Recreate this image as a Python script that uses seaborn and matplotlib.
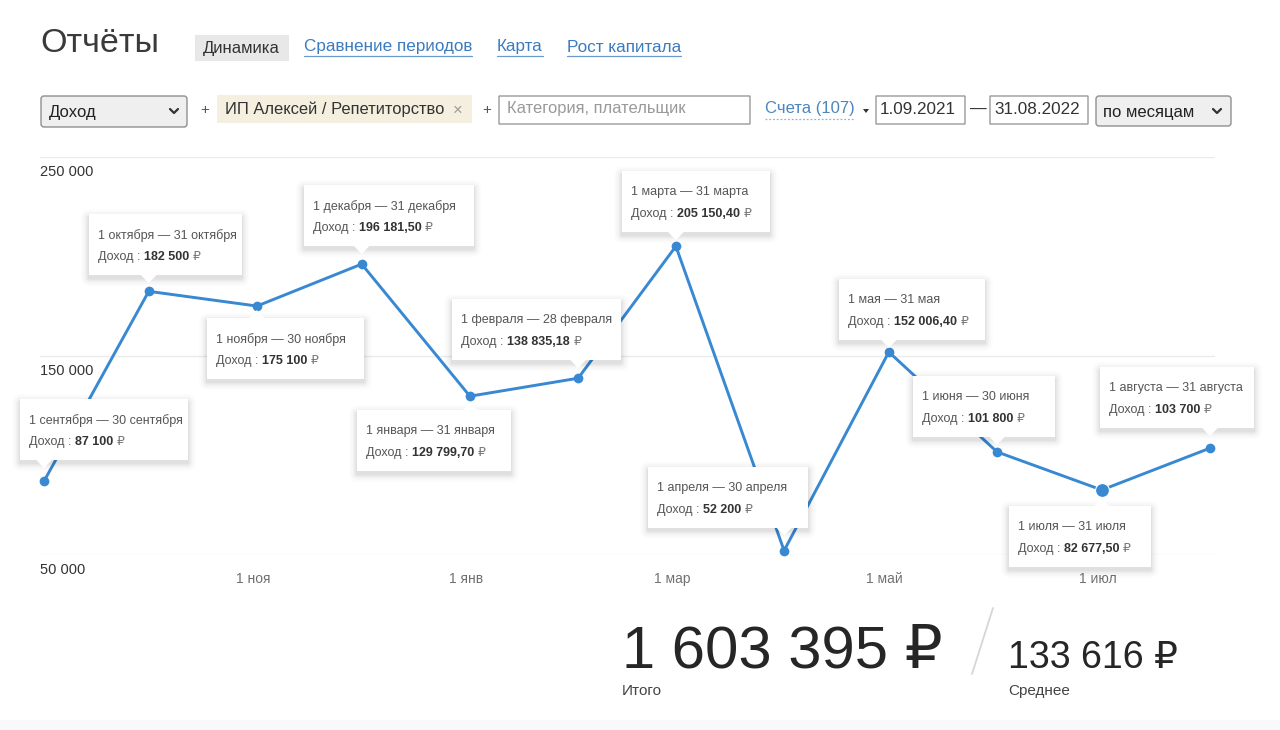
import numpy as np
import pandas as pd
import matplotlib
matplotlib.use("Agg")
import matplotlib.pyplot as plt
import matplotlib.dates as mdates
import matplotlib.transforms as mtransforms
import seaborn as sns
from matplotlib.patches import FancyBboxPatch, Rectangle, Polygon

# ---------------- data ----------------
months = pd.date_range("2021-09-01", "2022-08-01", freq="MS")
income = [87100, 182500, 175100, 196181.50, 129799.70, 138835.18,
          205150.40, 52200, 152006.40, 101800, 82677.50, 103700]
period_labels = ["1 сентября — 30 сентября", "1 октября — 31 октября",
                 "1 ноября — 30 ноября", "1 декабря — 31 декабря",
                 "1 января — 31 января", "1 февраля — 28 февраля",
                 "1 марта — 31 марта", "1 апреля — 30 апреля",
                 "1 мая — 31 мая", "1 июня — 30 июня",
                 "1 июля — 31 июля", "1 августа — 31 августа"]
value_labels = ["87 100", "182 500", "175 100", "196 181,50",
                "129 799,70", "138 835,18", "205 150,40", "52 200",
                "152 006,40", "101 800", "82 677,50", "103 700"]
currency = "₽"
xtick_dates = ["2021-11-01", "2022-01-01", "2022-03-01", "2022-05-01", "2022-07-01"]
xtick_labels = ["1 ноя", "1 янв", "1 мар", "1 май", "1 июл"]
ytick_values = [50000, 150000, 250000]
ytick_labels = ["50 000", "150 000", "250 000"]
series_name = "Доход"
total_label = "1 603 395 ₽"
mean_label = "133 616 ₽"
highlight_index = 10

# ---------------- style ----------------
sns.set_style("white")
FONT = ["Liberation Sans", "DejaVu Sans"]
plt.rcParams["font.family"] = FONT
BLUE = "#3888d2"
LINK = "#3b7bbf"
W, H = 1280, 730

fig = plt.figure(figsize=(W / 100, H / 100), dpi=100)
fig.patch.set_facecolor("white")

# main chart axes (pixel box 40..1215 x 157..555)
ax = fig.add_axes([40 / W, (H - 555) / H, 1175 / W, 398 / H])
df = pd.DataFrame({"month": months, "income": income})
sns.lineplot(data=df, x="month", y="income", ax=ax, color=BLUE, lw=2.1,
             marker="o", markersize=7, markeredgewidth=0, zorder=3)
for l in ax.lines:
    l.set_clip_on(False)
ax.plot(df["month"].iloc[highlight_index], df["income"].iloc[highlight_index],
        "o", ms=10, color=BLUE, mec="white", mew=0.8, zorder=4, clip_on=False)

x0 = mdates.date2num(months[0]) - 1.15
x1 = mdates.date2num(months[-1]) + 1.43
ax.set_xlim(x0, x1)
ax.set_ylim(min(ytick_values), max(ytick_values))
ax.set_yticks(ytick_values)
ax.set_yticklabels([])
ax.grid(axis="y", color="#ebebeb", lw=1)
ax.grid(axis="x", visible=False)
for s in ax.spines.values():
    s.set_visible(False)
ax.set_xticks(mdates.date2num(pd.to_datetime(xtick_dates)))
ax.set_xticklabels(xtick_labels)
ax.tick_params(axis="x", length=0, pad=12, labelsize=10, labelcolor="#707070")
ax.tick_params(axis="y", length=0)
shift = mtransforms.ScaledTranslation(-4 / 100, 0, fig.dpi_scale_trans)
for lab in ax.get_xticklabels():
    lab.set_transform(lab.get_transform() + shift)
ax.set_xlabel("")
ax.set_ylabel("")
for v, lab in zip(ytick_values, ytick_labels):
    ax.annotate(lab, xy=(0, v), xycoords=ax.get_yaxis_transform(),
                xytext=(0, -8), textcoords="offset pixels", ha="left", va="top",
                fontsize=10.5, color="#333333")

# overlay axes in image pixel coordinates (y down)
ov = fig.add_axes([0, 0, 1, 1], zorder=10)
ov.set_xlim(0, W)
ov.set_ylim(H, 0)
ov.axis("off")
ov.patch.set_alpha(0)

fig.canvas.draw()
renderer = fig.canvas.get_renderer()


def txt(x, y, s, **kw):
    kw.setdefault("va", "center")
    kw.setdefault("ha", "left")
    return ov.text(x, y, s, **kw)


def width_of(t):
    return t.get_window_extent(renderer).width


def box(x, y, w, h, fc="white", ec="#9a9a9a", lw=1, r=3, z=2):
    p = FancyBboxPatch((x, y), w, h, boxstyle=f"round,pad=0,rounding_size={r}",
                       fc=fc, ec=ec, lw=lw, zorder=z)
    ov.add_patch(p)
    return p


def chevron(cx, cy, s=4):
    ov.plot([cx - s, cx, cx + s], [cy - s / 2, cy + s / 2, cy - s / 2],
            color="#333333", lw=1.6, solid_capstyle="round", zorder=5)


# ---------------- header ----------------
txt(40, 43, "Отчёты", fontsize=24.5, color="#3a3a3a")
ov.add_patch(Rectangle((195, 35), 94, 26, fc="#e8e8e8", ec="none", zorder=1))
txt(203, 48, "Динамика", fontsize=12, color="#333333")
for x, s in [(304, "Сравнение периодов"), (497, "Карта"), (567, "Рост капитала")]:
    t = txt(x, 47, s, fontsize=12.3, color=LINK)
    w = width_of(t)
    ov.plot([x, x + w], [56, 56], color="#6b9bcc", lw=0.9)

# filter row
box(41, 96, 146, 31, fc="#efefef", ec="#8f8f8f")
txt(49, 112, series_name, fontsize=12, color="#222222")
chevron(174, 111)
txt(200, 110, "+", fontsize=11, color="#555555")
ov.add_patch(Rectangle((217, 95), 255, 28, fc="#f4efdf", ec="none", zorder=1))
txt(225, 109, "ИП Алексей / Репетиторство", fontsize=11.9, color="#333333")
txt(453, 110, "×", fontsize=12, color="#9a9a9a")
txt(482, 110, "+", fontsize=11, color="#555555")
box(499, 96, 251, 28, ec="#9a9a9a", r=0)
txt(507, 109, "Категория, плательщик", fontsize=11.9, color="#9a9a9a")
t = txt(765, 108, "Счета (107)", fontsize=12, color="#4a86c0")
w = width_of(t)
ov.plot([765, 765 + w], [119, 119], color="#8fb3d6", lw=0.9, ls=(0, (1.5, 1.5)))
ov.add_patch(Polygon([[863, 109], [869, 109], [866, 113]], closed=True,
                     fc="#333333", ec="none"))
box(876, 96, 89, 28, ec="#9a9a9a", r=0)
txt(880, 109, "1.09.2021", fontsize=12.3, color="#333333")
txt(970, 109, "—", fontsize=12, color="#333333")
box(990, 96, 98, 28, ec="#9a9a9a", r=0)
txt(994, 109, "31.08.2022", fontsize=12.3, color="#333333")
box(1096, 96, 135, 30, fc="#efefef", ec="#8f8f8f")
txt(1103, 112, "по месяцам", fontsize=12, color="#222222")
chevron(1217, 111)

# ---------------- tooltips ----------------
# (side, box-left offset from point, width, gap) in pixels
tip_layout = [("above", -24, 168, 21), ("above", -60, 153, 16), ("below", -50, 157, 12),
              ("above", -58, 170, 18), ("below", -113, 154, 14), ("above", -126, 169, 18),
              ("above", -54, 148, 14), ("above", -136, 160, 23), ("above", -50, 146, 12),
              ("above", -84, 142, 15), ("below", -93, 142, 16), ("above", -110, 154, 20)]
TH = 61
for i, (side, off, bw, gap) in enumerate(tip_layout):
    dx, dy = ax.transData.transform((mdates.date2num(months[i]), income[i]))
    px, py = dx, H - dy
    left = px + off
    top = py - gap - TH if side == "above" else py + gap
    # soft shadow
    for k, a in [(8, 0.012), (6, 0.018), (4, 0.025), (2.5, 0.03), (1.2, 0.035)]:
        ov.add_patch(FancyBboxPatch((left - k, top - k + 3), bw + 2 * k, TH + 2 * k,
                                    boxstyle=f"round,pad=0,rounding_size={k+1}",
                                    fc="black", ec="none", alpha=a, zorder=6))
    ov.add_patch(Rectangle((left, top), bw, TH, fc="white", ec="none", zorder=7))
    tx = min(max(px, left + 12), left + bw - 12)
    if side == "above":
        tri = [[tx - 8, top + TH - 0.5], [tx + 8, top + TH - 0.5], [tx, top + TH + 8]]
    else:
        tri = [[tx - 8, top + 0.5], [tx + 8, top + 0.5], [tx, top - 8]]
    ov.add_patch(Polygon(tri, closed=True, fc="white", ec="none", zorder=7))
    txt(left + 9, top + 21, period_labels[i], fontsize=9, color="#555555", zorder=8)
    t1 = txt(left + 9, top + 43, f"{series_name} : ", fontsize=9, color="#555555", zorder=8)
    w1 = width_of(t1)
    t2 = txt(left + 9 + w1, top + 43, value_labels[i] + " ", fontsize=9, color="#333333",
             fontweight="bold", zorder=8)
    w2 = width_of(t2)
    txt(left + 9 + w1 + w2, top + 43, currency, fontsize=9, color="#777777", zorder=8)

# ---------------- totals ----------------
txt(622, 652, total_label, fontsize=43, color="#262626")
ov.plot([993, 972], [608, 674], color="#d6d6d6", lw=1.3)
txt(1008, 658, mean_label, fontsize=27, color="#262626")
txt(622, 691, "Итого", fontsize=11, color="#444444")
txt(1008, 691, "Среднее", fontsize=11, color="#444444")
ov.add_patch(Rectangle((0, 720), W, 10, fc="#f7f9fa", ec="none"))

fig.savefig("out.png", dpi=100, facecolor="white")
